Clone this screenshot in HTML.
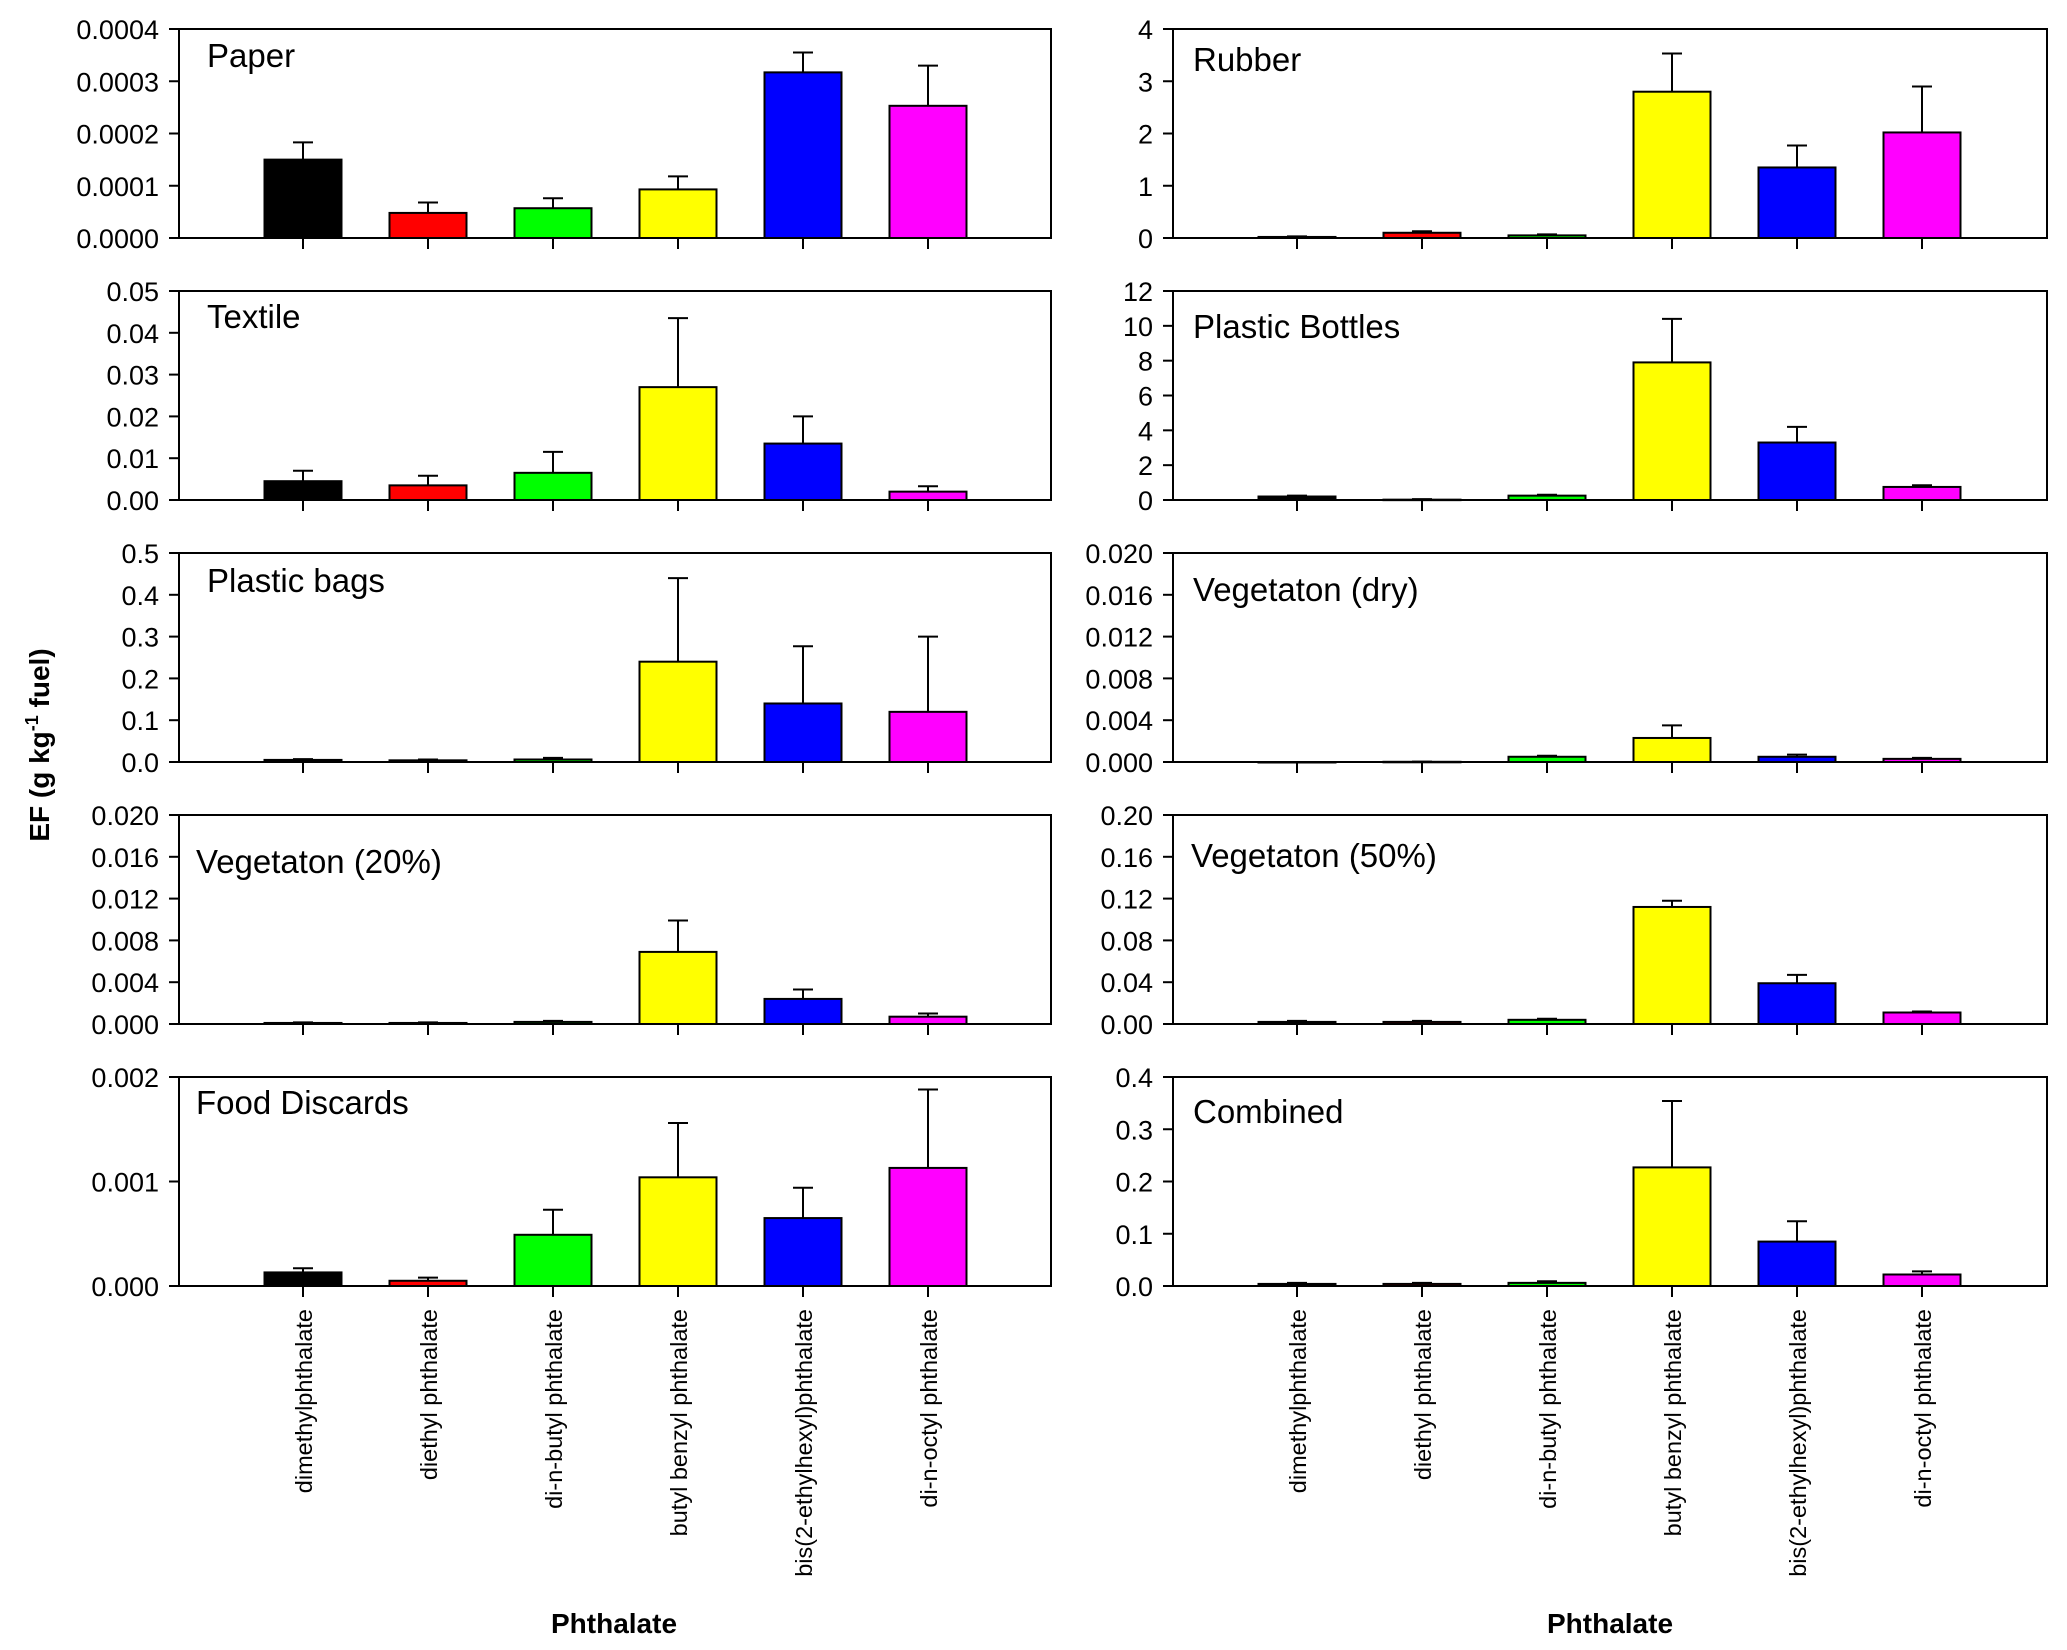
<!DOCTYPE html>
<html><head><meta charset="utf-8"><style>
html,body{margin:0;padding:0;background:#fff;}
svg{display:block;font-family:"Liberation Sans",Arial,sans-serif;}
</style></head><body>
<svg id="chart" width="2067" height="1650" viewBox="0 0 2067 1650" xmlns="http://www.w3.org/2000/svg">
<text transform="translate(49,745) rotate(-90)" text-anchor="middle" font-size="28" font-weight="bold">EF (g kg<tspan dy="-11" font-size="18">-1</tspan><tspan dy="11"> fuel)</tspan></text>
<text x="614" y="1633" text-anchor="middle" font-size="28" font-weight="bold">Phthalate</text>
<text x="1610" y="1633" text-anchor="middle" font-size="28" font-weight="bold">Phthalate</text>
</svg>
<script>
const categories = ["dimethylphthalate","diethyl phthalate","di-n-butyl phthalate","butyl benzyl phthalate","bis(2-ethylhexyl)phthalate","di-n-octyl phthalate"];
const colors = ["#000000","#ff0000","#00ff00","#ffff00","#0000ff","#ff00ff"];
const panelNames = ["Paper","Textile","Plastic bags","Vegetaton (20%)","Food Discards","Rubber","Plastic Bottles","Vegetaton (dry)","Vegetaton (50%)","Combined"];
const paperVals = [1.5e-4,0.48e-4,0.57e-4,0.93e-4,3.17e-4,2.53e-4];
const paperErr = [1.83e-4,0.68e-4,0.76e-4,1.18e-4,3.55e-4,3.3e-4];
const textileVals = [0.0045,0.0035,0.0065,0.027,0.0135,0.002];
const textileErr = [0.007,0.0058,0.0115,0.0435,0.02,0.0033];
const bagsVals = [0.005,0.004,0.006,0.24,0.14,0.12];
const bagsErr = [0.007,0.006,0.01,0.44,0.277,0.3];
const veg20Vals = [0.0001,0.0001,0.0002,0.0069,0.0024,0.0007];
const veg20Err = [0.00015,0.00015,0.0003,0.0099,0.0033,0.001];
const foodVals = [0.00013,0.00005,0.00049,0.00104,0.00065,0.00113];
const foodErr = [0.00017,0.00008,0.00073,0.00156,0.00094,0.00188];
const rubberVals = [0.02,0.1,0.05,2.8,1.35,2.02];
const rubberErr = [0.03,0.13,0.07,3.53,1.77,2.9];
const bottlesVals = [0.2,0.02,0.25,7.9,3.3,0.75];
const bottlesErr = [0.25,0.05,0.3,10.4,4.2,0.85];
const vegDryVals = [0,0.00002,0.0005,0.0023,0.0005,0.0003];
const vegDryErr = [0,0.00003,0.0006,0.0035,0.0007,0.0004];
const veg50Vals = [0.002,0.002,0.004,0.112,0.039,0.011];
const veg50Err = [0.003,0.003,0.005,0.118,0.047,0.012];
const combinedVals = [0.004,0.004,0.006,0.227,0.085,0.022];
const combinedErr = [0.006,0.006,0.009,0.354,0.124,0.028];
const paperTicks = ["0.0000","0.0001","0.0002","0.0003","0.0004"];
const textileTicks = ["0.00","0.01","0.02","0.03","0.04","0.05"];
const bagsTicks = ["0.0","0.1","0.2","0.3","0.4","0.5"];
const veg20Ticks = ["0.000","0.004","0.008","0.012","0.016","0.020"];
const foodTicks = ["0.000","0.001","0.002"];
const rubberTicks = ["0","1","2","3","4"];
const bottlesTicks = ["0","2","4","6","8","10","12"];
const vegDryTicks = ["0.000","0.004","0.008","0.012","0.016","0.020"];
const veg50Ticks = ["0.00","0.04","0.08","0.12","0.16","0.20"];
const combinedTicks = ["0.0","0.1","0.2","0.3","0.4"];

const panels = [
 {n:panelNames[0],v:paperVals,e:paperErr,t:paperTicks,col:0,row:0,lx:207,ly:67},
 {n:panelNames[1],v:textileVals,e:textileErr,t:textileTicks,col:0,row:1,lx:207,ly:328},
 {n:panelNames[2],v:bagsVals,e:bagsErr,t:bagsTicks,col:0,row:2,lx:207,ly:592},
 {n:panelNames[3],v:veg20Vals,e:veg20Err,t:veg20Ticks,col:0,row:3,lx:196,ly:873},
 {n:panelNames[4],v:foodVals,e:foodErr,t:foodTicks,col:0,row:4,lx:196,ly:1114},
 {n:panelNames[5],v:rubberVals,e:rubberErr,t:rubberTicks,col:1,row:0,lx:1193,ly:71},
 {n:panelNames[6],v:bottlesVals,e:bottlesErr,t:bottlesTicks,col:1,row:1,lx:1193,ly:338},
 {n:panelNames[7],v:vegDryVals,e:vegDryErr,t:vegDryTicks,col:1,row:2,lx:1193,ly:601},
 {n:panelNames[8],v:veg50Vals,e:veg50Err,t:veg50Ticks,col:1,row:3,lx:1191,ly:867},
 {n:panelNames[9],v:combinedVals,e:combinedErr,t:combinedTicks,col:1,row:4,lx:1193,ly:1123}
];
const NS="http://www.w3.org/2000/svg";
const svg=document.getElementById('chart');
function mk(tag,attrs,parent){const el=document.createElementNS(NS,tag);for(const k in attrs)el.setAttribute(k,attrs[k]);(parent||svg).appendChild(el);return el;}
const colX=[[179,1051],[1173,2047]];
panels.forEach(p=>{
  const [x0,x1]=colX[p.col];
  const top=29+p.row*262, bot=top+209;
  const g=mk('g',{});
  
  
  const ymax=parseFloat(p.t[p.t.length-1]);
  const y=v=>bot-(v/ymax)*(bot-top);
  const xc=i=>x0+124+i*125;
  p.t.forEach((lab,i)=>{
    const yy=y(parseFloat(lab));
    const tk=mk('line',{x1:x0-10,x2:x0,y1:yy,y2:yy,stroke:'#000','stroke-width':2},g);
    
    
    const tx=mk('text',{x:x0-20,y:yy+10,'text-anchor':'end','font-size':27},g);
    
    
    tx.textContent=lab;
  });
  p.v.forEach((v,i)=>{
    const c=xc(i), bw=77;
    const ey=y(p.e[i]), by=y(v);
    const el=mk('line',{x1:c,x2:c,y1:ey,y2:by,stroke:'#000','stroke-width':2},g);
    
    
    const cap=mk('line',{x1:c-10,x2:c+10,y1:ey,y2:ey,stroke:'#000','stroke-width':2},g);
    
    
    const r=mk('rect',{x:c-bw/2,y:by,width:bw,height:Math.max(bot-by,0.5),fill:colors[i],stroke:'#000','stroke-width':2},g);
    
    
    const xt=mk('line',{x1:c,x2:c,y1:bot,y2:bot+11,stroke:'#000','stroke-width':2},g);
    
    
  });
  const box=mk('rect',{x:x0,y:top,width:x1-x0,height:bot-top,fill:'none',stroke:'#000','stroke-width':2},g);
  
  
  const lt=mk('text',{x:p.lx,y:p.ly,'font-size':33},g);
  
  
  lt.textContent=p.n;
  if(p.row===4){
    categories.forEach((c,i)=>{
      const t=mk('text',{transform:`translate(${xc(i)+9},1309) rotate(-90)`,'text-anchor':'end','font-size':23.5},g);
      
      
      t.textContent=c;
    });
  }
});
</script>
</body></html>
